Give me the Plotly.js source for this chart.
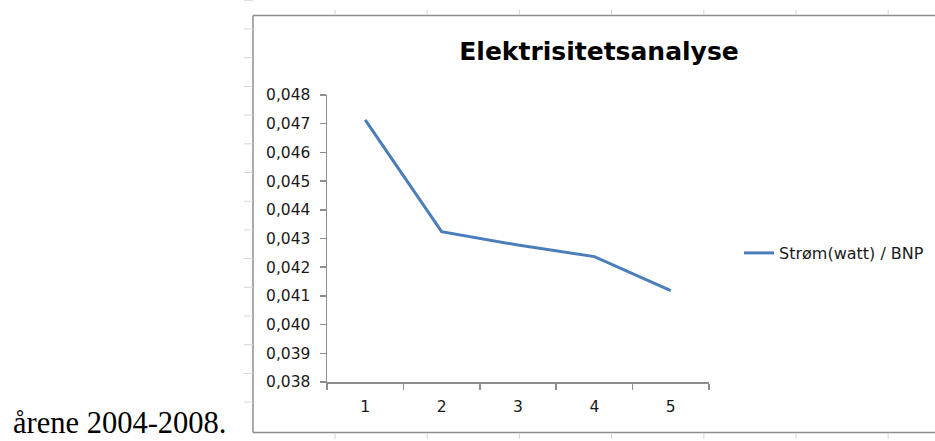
<!DOCTYPE html>
<html>
<head>
<meta charset="utf-8">
<script src="https://cdn.plot.ly/plotly-3.0.1.min.js"></script>
<style>
  html, body { margin: 0; padding: 0; background: #ffffff; }
  #chart { width: 935px; height: 441px; }
</style>
</head>
<body>
<div id="chart"></div>
<script>
// ---- data ----
const categories = ["1", "2", "3", "4", "5"];
const seriesName = "Strøm(watt) / BNP";
const values = [0.04713, 0.04324, 0.04277, 0.04237, 0.04118];
const chartTitle = "Elektrisitetsanalyse";
const captionText = "årene 2004-2008.";

// ---- layout helpers (pixel -> paper) ----
const W = 935, H = 441;
const L = 327, R = 709, T = 95, B = 382;
const px = x => (x - L) / (R - L);
const py = y => (B - y) / (B - T);

const shapes = [];
// chart frame (open on the right, extends past the picture)
shapes.push({type: "line", xref: "paper", yref: "paper", x0: px(253), x1: px(940), y0: py(15.5), y1: py(15.5), line: {color: "#8e8e8e", width: 1.5}});
shapes.push({type: "line", xref: "paper", yref: "paper", x0: px(253), x1: px(940), y0: py(432.5), y1: py(432.5), line: {color: "#8e8e8e", width: 1.5}});
shapes.push({type: "line", xref: "paper", yref: "paper", x0: px(253), x1: px(253), y0: py(15.5), y1: py(432.5), line: {color: "#8e8e8e", width: 1.5}});
// faint sheet grid ticks peeking outside the frame
for (let i = 0; i < 7; i++) {
  const gx = 335 + 92.2 * i;
  shapes.push({type: "line", xref: "paper", yref: "paper", x0: px(gx), x1: px(gx), y0: py(9.5), y1: py(15), line: {color: "#d6d6d6", width: 1}});
  shapes.push({type: "line", xref: "paper", yref: "paper", x0: px(gx), x1: px(gx), y0: py(433), y1: py(439), line: {color: "#d6d6d6", width: 1}});
}
for (let i = 0; i < 15; i++) {
  const gy = 0.3 + 28.7 * i;
  shapes.push({type: "line", xref: "paper", yref: "paper", x0: px(244), x1: px(253), y0: py(gy), y1: py(gy), line: {color: "#d6d6d6", width: 1}});
}

const trace = {
  type: "scatter",
  mode: "lines",
  x: categories,
  y: values,
  name: seriesName,
  line: {color: "#4a7ebb", width: 3}
};

const tickFont = {family: "DejaVu Sans", size: 15.5, color: "#1a1a1a"};

const layout = {
  width: W, height: H,
  margin: {l: L, r: W - R, t: T, b: H - B, autoexpand: false},
  paper_bgcolor: "#ffffff",
  plot_bgcolor: "#ffffff",
  separators: ", ",
  showlegend: true,
  title: {
    text: chartTitle,
    font: {family: "DejaVu Sans", size: 25, color: "#000000", weight: "bold"},
    xref: "paper", x: px(599), xanchor: "center",
    yref: "container", y: 1 - 51 / H, yanchor: "middle"
  },
  xaxis: {
    type: "category",
    range: [-0.5, 4.5],
    tickson: "boundaries",
    ticks: "outside", ticklen: 6, tickwidth: 1.5, tickcolor: "#8e8e8e",
    showline: true, linecolor: "#8e8e8e", linewidth: 1.5,
    showgrid: false, zeroline: false,
    tickfont: tickFont,
    ticklabelstandoff: 10,
    fixedrange: true
  },
  yaxis: {
    range: [0.038, 0.048],
    dtick: 0.001, tick0: 0.038,
    tickformat: ".3f",
    ticks: "outside", ticklen: 6, tickwidth: 1.5, tickcolor: "#8e8e8e",
    showline: true, linecolor: "#8e8e8e", linewidth: 1.5,
    showgrid: false, zeroline: false,
    tickfont: tickFont,
    ticklabelstandoff: 6,
    fixedrange: true
  },
  legend: {
    x: px(739), xanchor: "left",
    y: py(253), yanchor: "middle",
    font: {family: "DejaVu Sans", size: 16, color: "#1a1a1a"},
    bgcolor: "rgba(0,0,0,0)",
    borderwidth: 0
  },
  shapes: shapes,
  annotations: [{
    text: captionText,
    xref: "paper", yref: "paper",
    x: px(12), xanchor: "left",
    y: py(440.5), yanchor: "bottom",
    showarrow: false,
    borderpad: 0,
    font: {family: "Liberation Serif", size: 30.5, color: "#000000"}
  }]
};

Plotly.newPlot("chart", [trace], layout, {displayModeBar: false, staticPlot: true});
</script>
</body>
</html>
